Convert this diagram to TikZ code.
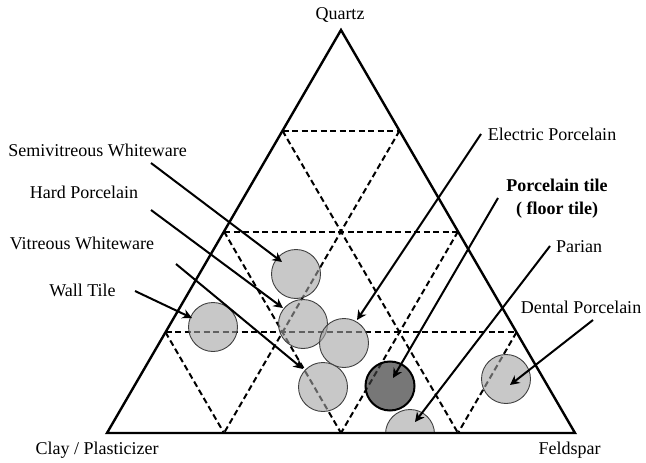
\documentclass[tikz,border=0pt]{standalone}
\usepackage{fontspec}
\setmainfont{Liberation Serif}
\usetikzlibrary{arrows.meta,calc}
\begin{document}
\begin{tikzpicture}[x=1pt,y=-1pt,
  lbl/.style={font=\fontsize{18}{21}\selectfont, inner sep=0pt},
  gridline/.style={line width=2pt, dash pattern=on 6pt off 3.5pt},
  outline/.style={line width=2.4pt, line join=miter},
  ptr/.style={line width=2pt, -{Stealth[length=9.5pt,width=9.5pt,inset=3pt]}},
  blob/.style={circle, minimum size=49pt, inner sep=0pt, draw=black!75, line width=0.9pt, fill=black!36, fill opacity=0.6},
  darkblob/.style={blob, draw=black, line width=2pt, fill=black!76, fill opacity=0.7}
]
\useasboundingbox (0,0) rectangle (646,463);
\coordinate (A) at (341,30);
\coordinate (L) at (107,433);
\coordinate (R) at (575,433);

% dashed grid
\foreach \t/\u in {0.25/0.75,0.5/0.5,0.75/0.25}{
  \draw[gridline] ($(A)!\t!(L)$) -- ($(A)!\t!(R)$);
  \draw[gridline] ($(A)!\t!(L)$) -- ($(L)!\u!(R)$);
  \draw[gridline] ($(A)!\t!(R)$) -- ($(L)!\t!(R)$);
}

% circles
\node[blob] (semi) at (296,274) {};
\node[blob] (hard) at (303,324) {};
\node[blob] (elec) at (344,343) {};
\node[blob] (wall) at (213,327) {};
\node[blob] (vitr) at (323,387) {};
\node[darkblob] (tile) at (390,386) {};
\node[blob] (dent) at (506,379) {};
\begin{scope}
  \clip (0,0) rectangle (646,433);
  \node[blob] (pari) at (410,434) {};
\end{scope}

% triangle
\draw[outline] (A) -- (L) -- (R) -- cycle;

% corner labels
\node[lbl] (quartz) at (340,15) {Quartz};
\node[lbl] (clay) at (97,450) {Clay / Plasticizer};
\node[lbl] (feld) at (569.5,450) {Feldspar};

% left labels
\node[lbl] (lsemi) at (97.5,150) {Semivitreous Whiteware};
\node[lbl] (lhard) at (84,192) {Hard Porcelain};
\node[lbl] (lvitr) at (82,243) {Vitreous Whiteware};
\node[lbl] (lwall) at (82.5,290) {Wall Tile};

% right labels
\node[lbl] (lelec) at (552,134) {Electric Porcelain};
\node[lbl, font=\bfseries\fontsize{18}{23}\selectfont, align=center] (ltile) at (557,198.5) {Porcelain tile\\( floor tile)};
\node[lbl] (lpari) at (579,247) {Parian};
\node[lbl] (ldent) at (581,307) {Dental Porcelain};

% arrow ends
\coordinate (ssemi) at (151,163); \coordinate (tsemi) at (282,262);
\coordinate (shard) at (151,210); \coordinate (thard) at (283,308);
\coordinate (svitr) at (176,264); \coordinate (tvitr) at (303,369);
\coordinate (swall) at (135,291); \coordinate (twall) at (192,318);
\coordinate (selec) at (481,134); \coordinate (telec) at (357,320);
\coordinate (stile) at (498,198); \coordinate (ttile) at (393,378);
\coordinate (spari) at (550,246); \coordinate (tpari) at (415,422);
\coordinate (sdent) at (593,320); \coordinate (tdent) at (510,385);

\draw[ptr] (ssemi) -- (tsemi);
\draw[ptr] (shard) -- (thard);
\draw[ptr] (svitr) -- (tvitr);
\draw[ptr] (swall) -- (twall);
\draw[ptr] (selec) -- (telec);
\draw[ptr] (stile) -- (ttile);
\draw[ptr] (spari) -- (tpari);
\draw[ptr] (sdent) -- (tdent);
\end{tikzpicture}
\end{document}
